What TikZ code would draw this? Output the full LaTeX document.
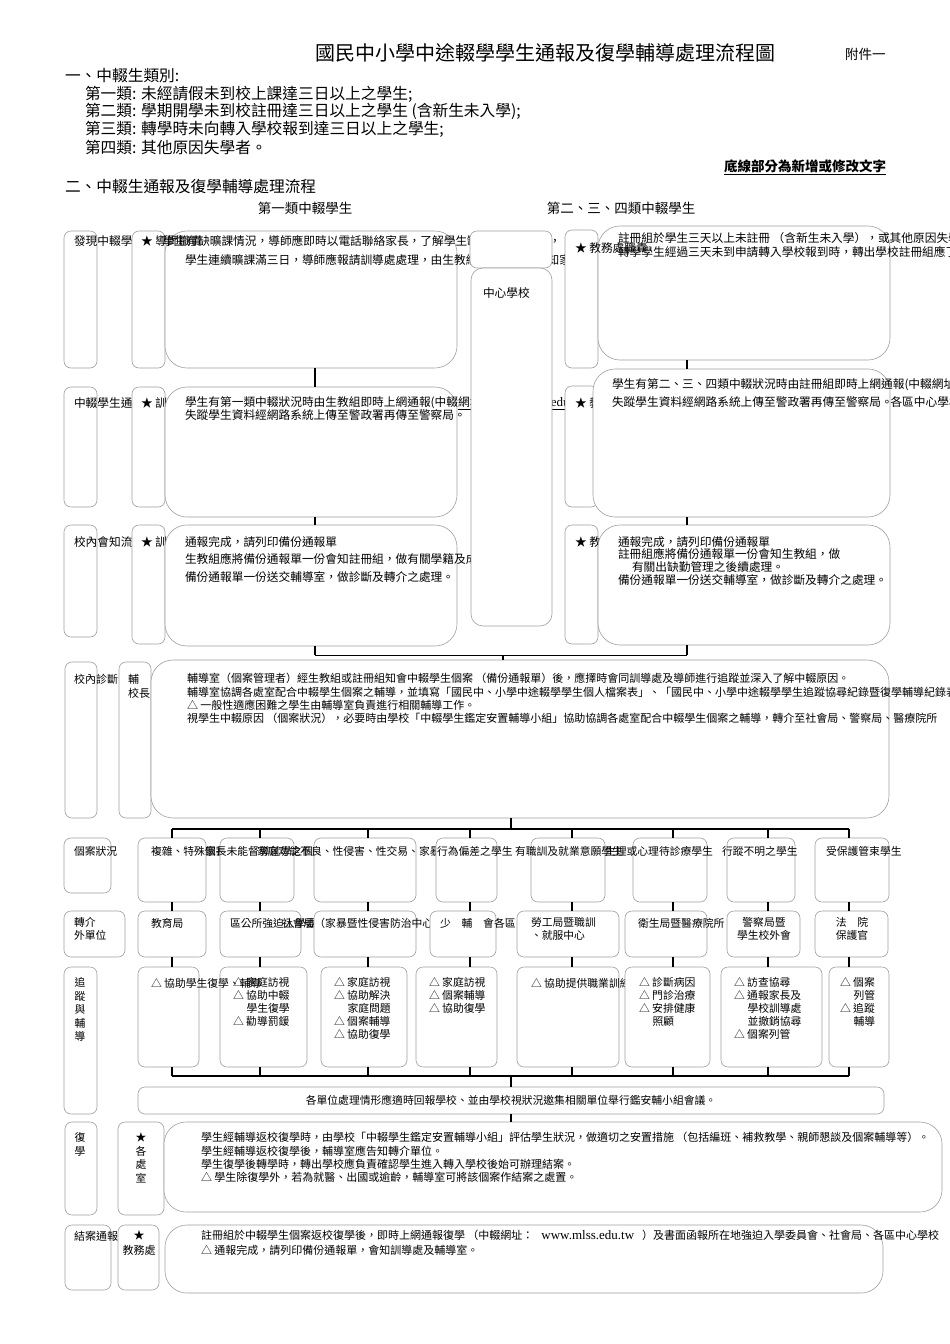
\documentclass[tikz,border=0pt]{standalone}
\usepackage{fontspec}
\setmainfont{Noto Sans CJK TC}
\newfontfamily\urlf{Liberation Serif}
\definecolor{lineg}{RGB}{160,160,160}
\tikzset{
  box/.style={draw=lineg, line width=0.6pt, fill=white, rounded corners=7pt, inner sep=0pt, outer sep=0pt},
  bigbox/.style={box, rounded corners=22pt},
  midbox/.style={box, rounded corners=12pt},
  conn/.style={line width=2pt, draw=black},
  bus/.style={line width=2.6pt, draw=black},
  ta/.style={inner sep=0pt, outer sep=0pt, anchor=west, font=\fontsize{11.7}{13}\selectfont},
  tb/.style={inner sep=0pt, outer sep=0pt, anchor=west, font=\fontsize{10.8}{13}\selectfont},
  tc/.style={inner sep=0pt, outer sep=0pt, anchor=west, font=\fontsize{11}{13}\selectfont},
  mla/.style={inner sep=0pt, outer sep=0pt, align=left, anchor=north west, yshift=5.85pt},
  mlb/.style={inner sep=0pt, outer sep=0pt, align=left, anchor=north west, yshift=5.4pt, font=\fontsize{10.8}{13}\selectfont},
  mlc/.style={inner sep=0pt, outer sep=0pt, align=left, anchor=north west, yshift=5.5pt, font=\fontsize{11}{13.3}\selectfont},
  hd/.style={inner sep=0pt, outer sep=0pt, anchor=west, font=\fontsize{15.7}{18}\selectfont},
  hs/.style={inner sep=0pt, outer sep=0pt, anchor=west, font=\fontsize{13.5}{16}\selectfont},
}
\newcommand\bx[6][box]{%
  \pgfmathsetmacro\bxW{#5-#3}\pgfmathsetmacro\bxH{#6-#4}%
  \node[#1, minimum width=\bxW pt, minimum height=\bxH pt, anchor=north west] (#2) at (#3,#4) {};}
\newcommand\webaddr{{\urlf\fontsize{13}{13}\selectfont www.mlss.edu.tw}}
\begin{document}
\begin{tikzpicture}[x=1pt,y=-1pt]
\useasboundingbox (0,0) rectangle (950,1344);
\fill[white] (0,0) rectangle (950,1344);

% ---------------- header ----------------
\node[inner sep=0pt, anchor=west, font=\fontsize{20}{24}\selectfont] (title) at (315,53) {國民中小學中途輟學學生通報及復學輔導處理流程圖};
\node[hs] (annex) at (845,54) {附件一};
\node[hd] (h1) at (65,76) {一、中輟生類別:};
\node[hd] (h1a) at (85,94) {第一類: 未經請假未到校上課達三日以上之學生;};
\node[hd] (h1b) at (85,111) {第二類: 學期開學未到校註冊達三日以上之學生 (含新生未入學);};
\node[hd] (h1c) at (85,129) {第三類: 轉學時未向轉入學校報到達三日以上之學生;};
\node[hd] (h1d) at (85,147) {第四類: 其他原因失學者。};
\node[hs, anchor=east] (note) at (886,167) {\textbf{\underline{底線部分為新增或修改文字}}};
\node[hd] (h2) at (65,187) {二、中輟生通報及復學輔導處理流程};
\node[hs, anchor=center] (col1) at (305,208) {第一類中輟學生};
\node[hs, anchor=center] (col2) at (621,208) {第二、三、四類中輟學生};

% ---------------- left column rows 1-3 ----------------
\bx{r1a}{64}{231}{97}{368}
\node[ta] (r1at) at (74,241) {發現中輟學生};
\bx{r1b}{132}{231}{165}{368}
\bx[bigbox]{r1c}{165}{231}{457}{368}
\node[ta] (r1bt) at (141,241) {★ 導師職責};
\node[ta] (r1c1) at (163,241) {學生有缺曠課情況，導師應即時以電話聯絡家長，了解學生缺曠原因並輔導，};
\node[ta] (r1c2) at (185,260) {學生連續曠課滿三日，導師應報請訓導處處理，由生教組查明原因並通知家長};

\bx{r2a}{64}{387}{97}{507}
\node[ta] (r2at) at (74,403) {中輟學生通報};
\bx{r2b}{132}{387}{165}{507}
\node[ta] (r2bt) at (141,403) {★ 訓導處};
\bx[bigbox]{r2c}{165}{387}{457}{517}
\node[ta] (r2c1) at (185,403) {學生有第一類中輟狀況時由生教組即時上網通報(中輟\underline{網址：\webaddr}）及書面函報所在地強迫入學委員會、社會局、\hspace{59pt}各區中心學校};
\node[ta] (r2c2) at (185,415) {失蹤學生資料經網路系統上傳至警政署再傳至警察局。};

\bx{r3a}{64}{525}{97}{637}
\node[ta] (r3at) at (74,542) {校內會知流程};
\bx{r3b}{132}{525}{165}{644}
\node[ta] (r3bt) at (141,542) {★ 訓導處};
\bx[bigbox]{r3c}{165}{525}{457}{646}
\node[mla, font=\fontsize{11.7}{17.5}\selectfont] (r3c1) at (185,542) {通報完成，請列印備份通報單\\生教組應將備份通報單一份會知註冊組，做有關學籍及成績之處理。\\備份通報單一份送交輔導室，做診斷及轉介之處理。};

% ---------------- centre column ----------------
\bx[box]{cs1}{470}{231}{552}{268}
\bx[midbox]{cs2}{471}{268}{552}{626}
\node[ta] (cst) at (483,293) {中心學校};

% ---------------- right column rows 1-3 ----------------
\bx{r1d}{565}{230}{598}{368}
\bx[bigbox]{r1e}{598}{226}{890}{360}
\node[ta] (r1dt) at (575,248) {★ 教務處職責};
\node[ta] (r1e1) at (618,238) {註冊組於學生三天以上未註冊 （含新生未入學），或其他原因失學};
\node[ta] (r1e2) at (618,252) {轉學學生經過三天未到申請轉入學校報到時，轉出學校註冊組應了解};

\bx{r2d}{565}{386}{598}{507}
\node[ta] (r2dt) at (575,403) {★ 教務處};
\bx[bigbox]{r2e}{593}{369}{890}{517}
\node[ta] (r2e1) at (612,385) {學生有第二、三、四類中輟狀況時由註冊組即時上網通報(中輟網址：};
\node[ta] (r2e2) at (612,402) {失蹤學生資料經網路系統上傳至警政署再傳至警察局。};

\bx{r3d}{565}{525}{598}{644}
\node[ta] (r3dt) at (575,542) {★ 教務處};
\bx[bigbox]{r3e}{598}{525}{890}{645}
\node[mla, font=\fontsize{11.7}{12.8}\selectfont] (r3e1) at (618,542) {通報完成，請列印備份通報單\\註冊組應將備份通報單一份會知生教組，做\\\hspace*{14pt}有關出缺勤管理之後續處理。\\備份通報單一份送交輔導室，做診斷及轉介之處理。};

% connectors rows 1-3
\coordinate (lx) at (315,0);
\coordinate (rx) at (687,0);
\coordinate (mx) at (503,0);
\coordinate (mj) at (0,655);
\draw[conn] (r1c.south -| lx) -- (r2c.north -| lx);
\draw[conn] (r2c.south -| lx) -- (r3c.north -| lx);
\draw[conn] (r1e.south -| rx) -- (r2e.north -| rx);
\draw[conn] (r2e.south -| rx) -- (r3e.north -| rx);

% ---------------- row 4 ----------------
\bx{r4a}{65}{662}{97}{818}
\node[tc] (r4at) at (74,679) {校內診斷};
\bx{r4b}{119}{662}{151}{818}
\node[tc] (r4b1) at (128,679) {輔};
\node[tc] (r4b2) at (128,693) {校長};
\bx[bigbox]{r4c}{151}{660}{889}{818}
\node[mlc] (r4c1) at (187,679) {輔導室（個案管理者）經生教組或註冊組知會中輟學生個案 （備份通報單）後，應擇時會同訓導處及導師進行追蹤並深入了解中輟原因。\\輔導室協調各處室配合中輟學生個案之輔導，並填寫「國民中、小學中途輟學學生個人檔案表」、「國民中、小學中途輟學學生追蹤協尋紀錄暨復學輔導紀錄表」\\△ 一般性適應困難之學生由輔導室負責進行相關輔導工作。\\視學生中輟原因 （個案狀況），必要時由學校「中輟學生鑑定安置輔導小組」協助協調各處室配合中輟學生個案之輔導，轉介至社會局、警察局、醫療院所};

\draw[conn] (r3c.south -| lx) -- (lx |- mj);
\draw[conn] (r3e.south -| rx) -- (rx |- mj);
\draw[line width=1pt] (lx |- mj) -- (rx |- mj);
\draw[conn] (mx |- mj) -- (r4c.north -| mx);

% ---------------- row 5 : case status ----------------
\bx{r5a}{64}{838}{111}{893}
\node[tb] (r5at) at (74,851) {個案狀況};
\bx{c1}{138}{838}{206}{902}
\node[tb] (c1t) at (151,851) {複雜、特殊個案};
\bx{c2}{220}{838}{294}{902}
\node[tb] (c2t) at (205,851) {家長未能督導就學之個案};
\bx{c3}{314}{838}{416}{902}
\node[tb] (c3t) at (257,851) {家庭功能不良、性侵害、性交易、家暴};
\bx{c4}{436}{838}{497}{902}
\node[tb] (c4t) at (437,851) {行為偏差之學生};
\bx{c5}{531}{838}{605}{902}
\node[tb] (c5t) at (515,851) {有職訓及就業意願學生};
\bx{c6}{633}{838}{707}{902}
\node[tb] (c6t) at (605,851) {生理或心理待診療學生};
\bx{c7}{727}{838}{795}{902}
\node[tb] (c7t) at (722,851) {行蹤不明之學生};
\bx{c8}{815}{838}{889}{902}
\node[tb] (c8t) at (826,851) {受保護管束學生};

% ---------------- row 6 : referral ----------------
\bx{r6a}{64}{911}{125}{957}
\node[mlb] (r6at) at (74,923) {轉介\\外單位};
\bx{f1}{138}{911}{206}{957}
\node[tb] (f1t) at (151,923) {教育局};
\bx{f2}{220}{911}{301}{957}
\node[tb] (f2t) at (230,923) {區公所強迫入學委員會};
\bx{f3}{314}{911}{416}{957}
\node[tb] (f3t) at (282,923) {社會局（家暴暨性侵害防治中心）};
\bx{f4}{430}{911}{496}{957}
\node[tb] (f4t) at (440,923) {少　輔　會各區};
\bx{f5}{517}{911}{619}{957}
\node[mlb] (f5t) at (531,923) {勞工局暨職訓\\、就服中心};
\bx{f6}{625}{911}{707}{957}
\node[tb] (f6t) at (638,923) {衛生局暨醫療院所};
\bx{f7}{727}{911}{800}{957}
\node[mlb, align=center, anchor=north] (f7t) at (764,923) {警察局暨\\學生校外會};
\bx{f8}{815}{911}{888}{957}
\node[mlb, align=center, anchor=north] (f8t) at (852,923) {法　院\\保護官};

% ---------------- row 7 : follow-up ----------------
\bx{r7a}{64}{967}{97}{1114}
\node[mlb, align=center, anchor=north, font=\fontsize{10.8}{13.5}\selectfont] (r7at) at (80,983) {追\\蹤\\與\\輔\\導};
\bx{g1}{138}{967}{199}{1067}
\bx{g2}{220}{967}{307}{1067}
\bx{g3}{321}{967}{407}{1067}
\bx{g4}{416}{967}{497}{1067}
\bx{g5}{517}{967}{619}{1067}
\node[tb] (g1t) at (151,983) {△ 協助學生復學、輔導};
\node[mlb] (g2t) at (233,983) {△ 家庭訪視\\△ 協助中輟\\\hspace*{1.25em}學生復學\\△ 勸導罰鍰};
\node[mlb] (g3t) at (334,983) {△ 家庭訪視\\△ 協助解決\\\hspace*{1.25em}家庭問題\\△ 個案輔導\\△ 協助復學};
\node[mlb] (g4t) at (429,983) {△ 家庭訪視\\△ 個案輔導\\△ 協助復學};
\node[tb] (g5t) at (531,983) {△ 協助提供職業訓練};
\bx{g6}{625}{967}{710}{1067}
\node[mlb] (g6t) at (639,983) {△ 診斷病因\\△ 門診治療\\△ 安排健康\\\hspace*{1.25em}照顧};
\bx{g7}{721}{967}{822}{1067}
\node[mlb] (g7t) at (734,983) {△ 訪查協尋\\△ 通報家長及\\\hspace*{1.25em}學校訓導處\\\hspace*{1.25em}並撤銷協尋\\△ 個案列管};
\bx{g8}{829}{967}{889}{1067}
\node[mlb] (g8t) at (840,983) {△ 個案\\\hspace*{1.25em}列管\\△ 追蹤\\\hspace*{1.25em}輔導};

% ---------------- summary ----------------
\bx{sum}{138}{1087}{884}{1114}
\node[tb, anchor=center] (sumt) at (511,1100) {各單位處理情形應適時回報學校、並由學校視狀況邀集相關單位舉行鑑安輔小組會議。};

% buses and drops
\coordinate (cx) at (511,0);
\coordinate (tl) at (172,829);
\coordinate (tr) at (849,829);
\coordinate (bl) at (172,1076);
\coordinate (br) at (849,1076);
\foreach \i/\xx in {1/172,2/260,3/368,4/470,5/572,6/673,7/768,8/849} {
  \coordinate (d\i) at (\xx,0);
}
\foreach \i in {1,...,8} {
  \draw[conn] (d\i |- tl) -- (c\i.north -| d\i);
  \draw[conn] (c\i.south -| d\i) -- (f\i.north -| d\i);
  \draw[conn] (f\i.south -| d\i) -- (g\i.north -| d\i);
  \draw[conn] (g\i.south -| d\i) -- (d\i |- bl);
}
\draw[conn] (r4c.south -| cx) -- (cx |- tl);
\draw[bus] (tl) -- (tr);
\draw[bus] (bl) -- (br);
\draw[conn] (cx |- bl) -- (sum.north -| cx);

% ---------------- row 8 : return to school ----------------
\bx{r8a}{65}{1122}{97}{1215}
\node[mlb, align=center, anchor=north, font=\fontsize{10.8}{14}\selectfont] (r8at) at (80,1138) {復\\學};
\bx{r8b}{118}{1122}{164}{1215}
\node[mlb, align=center, anchor=north, font=\fontsize{10.8}{13.7}\selectfont] (r8bt) at (141,1138) {★\\各\\處\\室};
\bx[bigbox]{r8c}{164}{1122}{942}{1212}
\node[mlc] (r8c1) at (201,1138) {學生經輔導返校復學時，由學校「中輟學生鑑定安置輔導小組」評估學生狀況，做適切之安置措施 （包括編班、補救教學、親師懇談及個案輔導等）。\\學生經輔導返校復學後，輔導室應告知轉介單位。\\學生復學後轉學時，轉出學校應負責確認學生進入轉入學校後始可辦理結案。\\△ 學生除復學外，若為就醫、出國或逾齡，輔導室可將該個案作結案之處置。};
\draw[conn] (sum.south -| cx) -- (r8c.north -| cx);

% ---------------- row 9 : closing report ----------------
\bx{r9a}{65}{1225}{111}{1290}
\node[tc] (r9at) at (74,1236) {結案通報};
\bx{r9b}{118}{1225}{159}{1290}
\node[mlc, align=center, anchor=north, font=\fontsize{11}{15}\selectfont] (r9bt) at (139,1236) {★\\教務處};
\bx[bigbox]{r9c}{165}{1225}{883}{1293}
\node[mlc, font=\fontsize{11}{15}\selectfont] (r9c1) at (201,1236) {註冊組於中輟學生個案返校復學後，即時上網通報復學 （中輟網址：\hspace{8pt}\webaddr\hspace{8pt}）及書面函報所在地強迫入學委員會、社會局、各區中心學校\\△ 通報完成，請列印備份通報單，會知訓導處及輔導室。};
\end{tikzpicture}
\end{document}
